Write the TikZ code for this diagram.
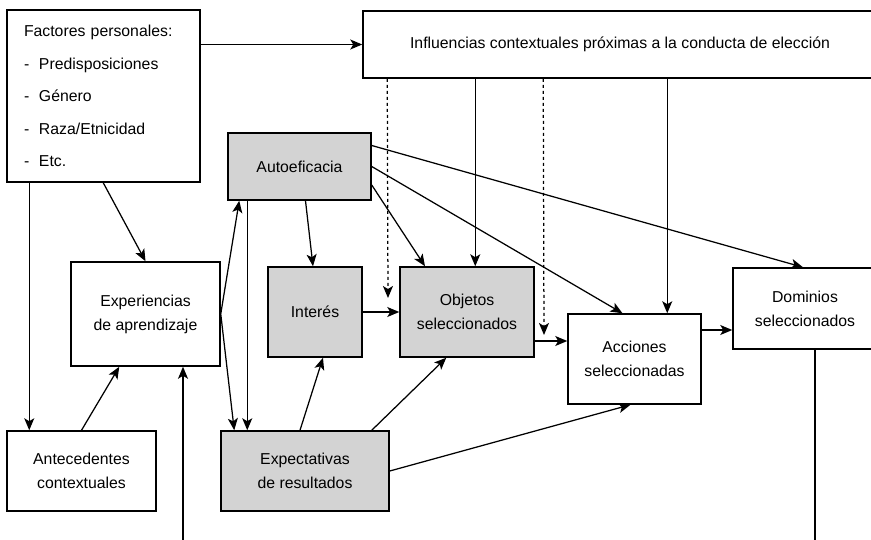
\documentclass[tikz,border=0pt]{standalone}
\usepackage{fontspec}
\setmainfont{Liberation Sans}
\usepackage{tikz}
\usetikzlibrary{arrows.meta}
\definecolor{cajagris}{RGB}{211,211,211}

\begin{document}
\begin{tikzpicture}[x=1pt, y=-1pt, >={Stealth[length=12pt,width=10pt,inset=3pt]},
    caja/.style={draw, rectangle, line width=1.5pt, align=center, inner sep=0pt,
        font=\fontsize{15.8}{24}\selectfont},
    cajag/.style={caja, fill=cajagris},
    flecha/.style={->, line width=1.25pt}]
\useasboundingbox (0,0) rectangle (871,539);
\clip (0,0) rectangle (871,539);

\node[caja, minimum width=193, minimum height=172, align=left, text width=159,
    font=\fontsize{15.8}{32.5}\selectfont] (fact) at (103.5,96)
    {Factores personales:\\
     \makebox[15pt][l]{-}Predisposiciones\\
     \makebox[15pt][l]{-}Género\\
     \makebox[15pt][l]{-}Raza/Etnicidad\\
     \makebox[15pt][l]{-}Etc.};
\node[caja, minimum width=514, minimum height=67] (infl) at (620,44.5)
    {Influencias contextuales próximas a la conducta de elección};

\node[cajag, minimum width=143, minimum height=67] (auto) at (299.5,166.5) {Autoeficacia};
\node[caja, minimum width=149, minimum height=104] (exper) at (145.5,314) {Experiencias\\de aprendizaje};
\node[cajag, minimum width=94, minimum height=90] (inter) at (315,312) {Interés};
\node[cajag, minimum width=134, minimum height=90] (obj) at (467,312) {Objetos\\seleccionados};
\node[caja, minimum width=133, minimum height=90] (acc) at (634.5,359) {Acciones\\seleccionadas};
\node[caja, minimum width=144, minimum height=81] (dom) at (805,308.5) {Dominios\\seleccionados};

\node[caja, minimum width=149, minimum height=80] (ant) at (81.5,471) {Antecedentes\\contextuales};
\node[cajag, minimum width=168, minimum height=80] (expec) at (305,471) {Expectativas\\de resultados};

\coordinate (m1) at (388,298);
\coordinate (m2) at (544,335);
\coordinate (fb1) at (183,545);
\coordinate (fb2) at (815,545);

\path
    (infl.west -| fact.east) edge[flecha] (infl.west)
    ([xshift=23pt]fact.south west) edge[flecha] ([xshift=23pt]ant.north west)
    ([xshift=97pt]fact.south west) edge[flecha] (exper.north)
    (ant.north) edge[flecha] ([xshift=49pt]exper.south west)
    (fb1) edge[flecha] (fb1 |- exper.south)

    (exper.east) edge[flecha] ([xshift=12pt]auto.south west)
    (exper.east) edge[flecha] ([xshift=14pt]expec.north west)
    ([xshift=20pt]auto.south west) edge[flecha] ([xshift=27pt]expec.north west)

    ([xshift=6pt]auto.south) edge[flecha] ([xshift=-2pt]inter.north)
    ([yshift=-18.5pt]auto.east) edge[flecha] ([xshift=-42pt]obj.north)
    (auto.east) edge[flecha] ([xshift=-12pt]acc.north)
    ([yshift=21pt]auto.east) edge[flecha] ([xshift=-2pt]dom.north)

    (inter.east) edge[flecha] (obj.west)
    ([yshift=-29pt]obj.east) edge[flecha] ([yshift=-29pt]obj.east -| acc.west)
    ([yshift=29pt]acc.east) edge[flecha] ([yshift=29pt]acc.east -| dom.west)

    ([xshift=-5pt]expec.north) edge[flecha] ([xshift=8pt]inter.south)
    ([xshift=-18pt]expec.north east) edge[flecha] ([xshift=47pt]obj.south west)
    (expec.east) edge[flecha] ([xshift=-4pt]acc.south)

    ([xshift=113pt]infl.south west) edge[flecha] ([xshift=113pt]infl.south west |- obj.north)
    ([xshift=305pt]infl.south west) edge[flecha] ([xshift=305pt]infl.south west |- acc.north)
    ([xshift=25pt]infl.south west) edge[flecha, dashed] (m1)
    ([xshift=181pt]infl.south west) edge[flecha, dashed] (m2)

    ([xshift=10pt]dom.south) edge[line width=1.25pt] (fb2);
\end{tikzpicture}
\end{document}
